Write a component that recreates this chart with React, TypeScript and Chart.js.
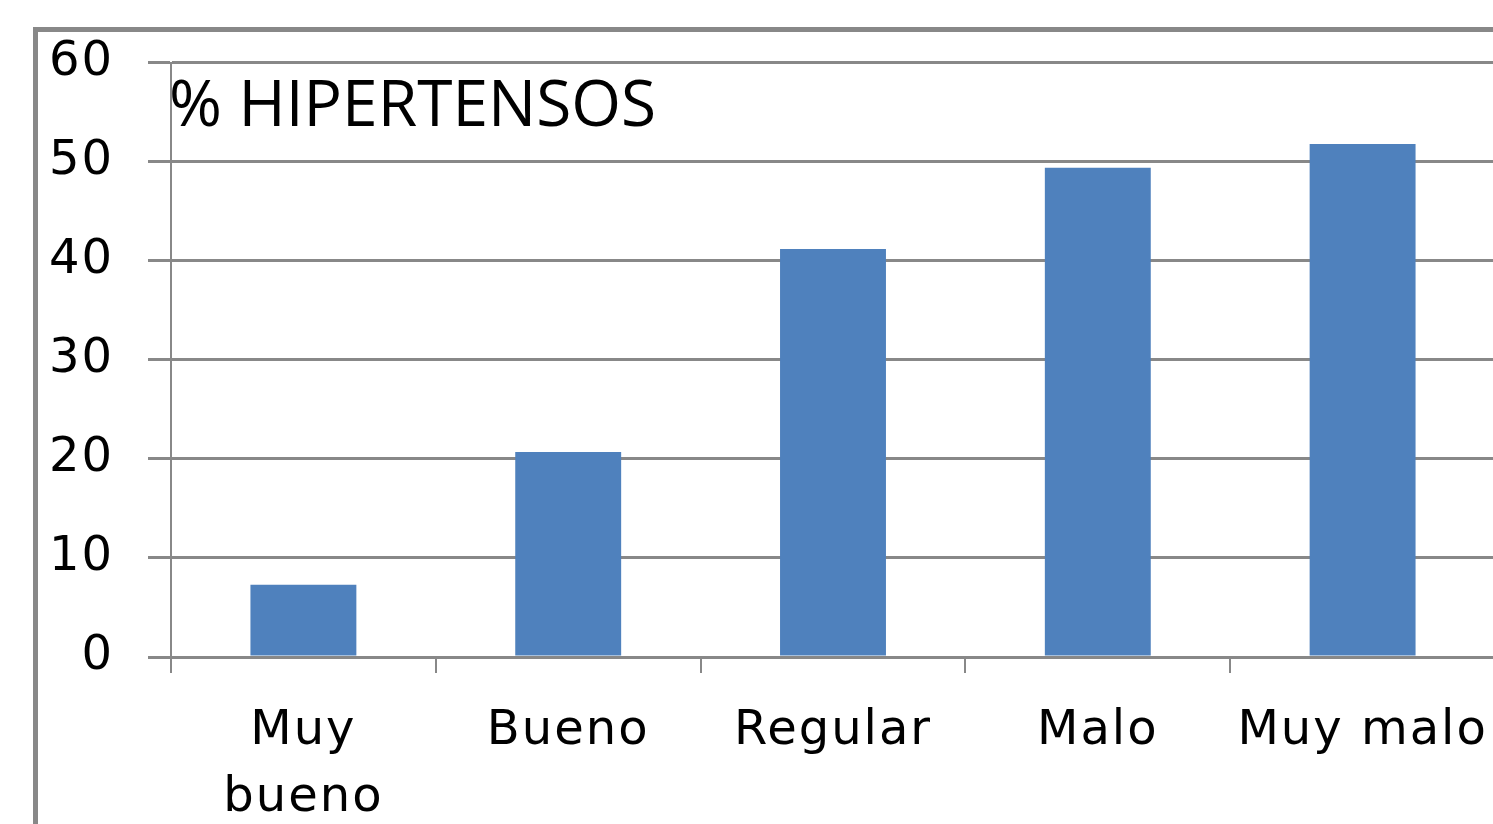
import React, { useEffect, useRef } from "react";
import { Chart, registerables } from "chart.js";

Chart.register(...registerables);

const categories: (string | string[])[] = [["Muy", "bueno"], "Bueno", "Regular", "Malo", "Muy malo"];
const hipertensos: number[] = [7.3, 20.7, 41.2, 49.4, 51.8];
const yTicks: number[] = [0, 10, 20, 30, 40, 50, 60];
const chartTitle = "% HIPERTENSOS";

const spacingPlugin = {
  id: "labelSpacing",
  beforeDraw(chart: any) {
    (chart.ctx as any).letterSpacing = "2px";
  },
};

const titlePlugin = {
  id: "innerTitle",
  afterDraw(chart: any) {
    const ctx = chart.ctx;
    ctx.save();
    (ctx as any).letterSpacing = "0px";
    ctx.font = '64px "Open Sans"';
    ctx.fillStyle = "#000";
    ctx.textAlign = "left";
    ctx.textBaseline = "alphabetic";
    ctx.fillText(chartTitle, chart.chartArea.left - 2, 126);
    ctx.restore();
  },
};

export default function App() {
  const ref = useRef<HTMLCanvasElement | null>(null);
  useEffect(() => {
    if (!ref.current) return;
    const chart = new Chart(ref.current, {
      type: "bar",
      data: {
        labels: categories,
        datasets: [
          {
            data: hipertensos,
            backgroundColor: "#4F81BD",
            borderWidth: 0,
            categoryPercentage: 1,
            barPercentage: 0.4,
          },
        ],
      },
      options: {
        animation: false,
        responsive: false,
        devicePixelRatio: 1,
        layout: { padding: { top: 62, right: 5, left: 0, bottom: 0 } },
        plugins: { legend: { display: false }, tooltip: { enabled: false }, title: { display: false } },
        scales: {
          x: {
            grid: {
              display: true,
              drawOnChartArea: false,
              drawTicks: true,
              tickLength: 16,
              color: "#888888",
              lineWidth: 2,
              offset: true,
            },
            border: { display: true, color: "#888888", width: 3 },
            ticks: {
              color: "#000",
              font: { family: '"DejaVu Sans"', size: 48, lineHeight: 1.4 },
              padding: 25,
              maxRotation: 0,
              minRotation: 0,
              autoSkip: false,
            },
            afterFit(scale: any) {
              scale.height = 167;
              scale.paddingLeft = 0;
              scale.paddingRight = 0;
            },
          },
          y: {
            min: 0,
            max: 60,
            afterBuildTicks(scale: any) {
              scale.ticks = yTicks.map((v) => ({ value: v }));
            },
            grid: {
              color: "#888888",
              lineWidth: 3,
              drawTicks: true,
              tickLength: 23,
            },
            border: { display: true, color: "#888888", width: 2 },
            ticks: {
              color: "#000",
              font: { family: '"DejaVu Sans"', size: 48 },
              padding: 34,
            },
            afterFit(scale: any) {
              scale.width = 171;
            },
          },
        },
      },
      plugins: [spacingPlugin, titlePlugin],
    });
    return () => chart.destroy();
  }, []);

  return (
    <div
      style={{
        position: "fixed",
        left: 0,
        top: 0,
        width: 1493,
        height: 824,
        overflow: "hidden",
        background: "#fff",
      }}
    >
      <div
        style={{
          position: "absolute",
          left: 33,
          top: 27,
          width: 2000,
          height: 2000,
          border: "5px solid #888888",
          boxSizing: "border-box",
        }}
      />
      <canvas
        ref={ref}
        width={1500}
        height={824}
        style={{ position: "absolute", left: 0, top: 0, width: 1500, height: 824 }}
      />
    </div>
  );
}
